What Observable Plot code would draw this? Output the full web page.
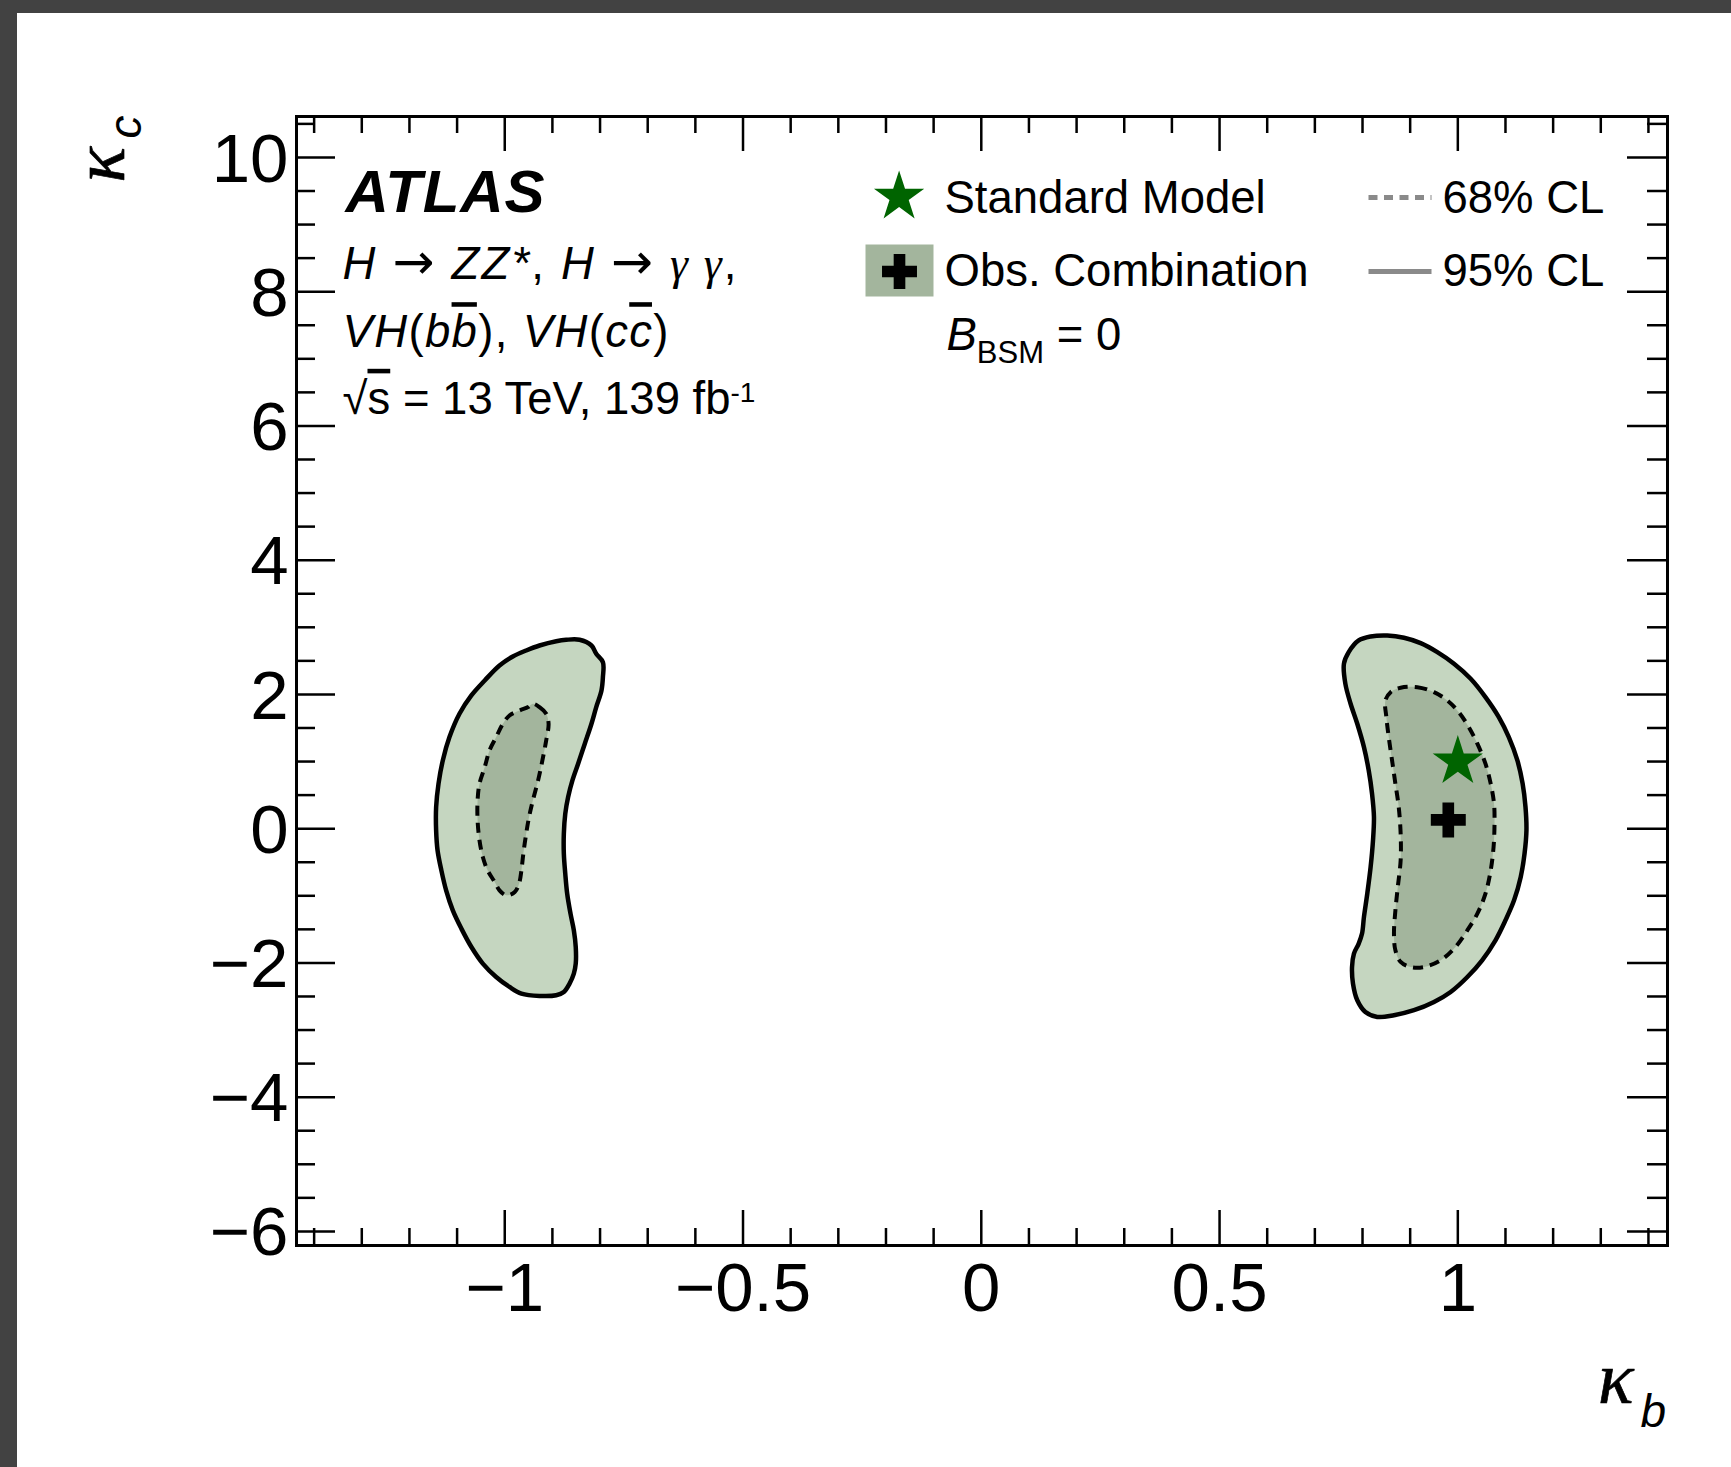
<!DOCTYPE html>
<html><head><meta charset="utf-8">
<script src="https://cdn.jsdelivr.net/npm/d3@7"></script>
<script src="https://cdn.jsdelivr.net/npm/@observablehq/plot@0.6"></script>
<style>
html,body{margin:0;padding:0;background:#424242;width:1731px;height:1467px;overflow:hidden;}
#page{position:absolute;left:17px;top:13px;width:1714px;height:1454px;background:#fff;}
#page svg{display:block;}
</style></head><body><div id="page"></div>
<script>
// ---------------- data ----------------
const xMajorTicks = [-1, -0.5, 0, 0.5, 1];
const xMinorTicks = [-1.4,-1.3,-1.2,-1.1,-0.9,-0.8,-0.7,-0.6,-0.4,-0.3,-0.2,-0.1,0.1,0.2,0.3,0.4,0.6,0.7,0.8,0.9,1.1,1.2,1.3,1.4];
const yMajorTicks = [-6, -4, -2, 0, 2, 4, 6, 8, 10];
const yMinorTicks = [-5.5,-5,-4.5,-3.5,-3,-2.5,-1.5,-1,-0.5,0.5,1,1.5,2.5,3,3.5,4.5,5,5.5,6.5,7,7.5,8.5,9,9.5,10.5];

const standardModel = [{kb: 1.0, kc: 1.0}];
const bestFit = [{kb: 0.98, kc: 0.13}];

// 95% CL contour, island at kappa_b < 0  [kb, kc]
const cl95Left = [[-0.843,2.814],[-0.818,2.729],[-0.808,2.606],[-0.794,2.481],[-0.794,2.257],[-0.797,2.059],[-0.808,1.811],[-0.818,1.563],[-0.832,1.266],[-0.846,0.968],[-0.858,0.719],[-0.867,0.471],[-0.873,0.223],[-0.876,-0.074],[-0.876,-0.372],[-0.873,-0.670],[-0.869,-0.968],[-0.862,-1.266],[-0.855,-1.514],[-0.851,-1.763],[-0.851,-2.010],[-0.855,-2.159],[-0.864,-2.308],[-0.876,-2.433],[-0.892,-2.482],[-0.927,-2.492],[-0.965,-2.457],[-0.990,-2.358],[-1.018,-2.210],[-1.046,-2.010],[-1.070,-1.763],[-1.091,-1.489],[-1.109,-1.217],[-1.123,-0.919],[-1.133,-0.621],[-1.141,-0.323],[-1.144,-0.025],[-1.144,0.322],[-1.139,0.670],[-1.130,1.017],[-1.116,1.364],[-1.095,1.712],[-1.070,1.985],[-1.042,2.208],[-1.011,2.431],[-0.983,2.566],[-0.955,2.655],[-0.927,2.729],[-0.892,2.793],[-0.871,2.814]];
// 68% CL contour, island at kappa_b < 0
const cl68Left = [[-0.941,1.861],[-0.927,1.811],[-0.913,1.712],[-0.908,1.563],[-0.913,1.315],[-0.921,1.017],[-0.930,0.719],[-0.941,0.421],[-0.949,0.173],[-0.955,-0.074],[-0.961,-0.372],[-0.965,-0.621],[-0.970,-0.819],[-0.979,-0.944],[-0.997,-0.993],[-1.011,-0.919],[-1.021,-0.795],[-1.036,-0.621],[-1.046,-0.423],[-1.053,-0.174],[-1.057,0.124],[-1.057,0.421],[-1.053,0.670],[-1.042,0.917],[-1.032,1.166],[-1.018,1.364],[-1.004,1.563],[-0.990,1.687],[-0.969,1.761],[-0.951,1.811]];
// 95% CL contour, island at kappa_b > 0
const cl95Right = [[0.792,2.804],[0.817,2.863],[0.852,2.878],[0.887,2.844],[0.922,2.764],[0.957,2.630],[0.992,2.457],[1.027,2.233],[1.058,1.960],[1.086,1.662],[1.107,1.364],[1.125,1.017],[1.136,0.670],[1.142,0.322],[1.144,-0.025],[1.140,-0.372],[1.132,-0.720],[1.118,-1.068],[1.100,-1.365],[1.079,-1.663],[1.051,-1.961],[1.020,-2.210],[0.985,-2.433],[0.950,-2.582],[0.908,-2.705],[0.866,-2.780],[0.831,-2.805],[0.806,-2.731],[0.789,-2.557],[0.780,-2.308],[0.778,-2.061],[0.782,-1.861],[0.792,-1.712],[0.799,-1.563],[0.803,-1.316],[0.810,-0.968],[0.817,-0.572],[0.822,-0.174],[0.824,0.173],[0.820,0.521],[0.813,0.868],[0.803,1.215],[0.789,1.563],[0.775,1.861],[0.764,2.159],[0.761,2.457],[0.771,2.630]];
// 68% CL contour, island at kappa_b > 0
const cl68Right = [[0.880,2.099],[0.915,2.108],[0.950,2.034],[0.978,1.910],[1.002,1.736],[1.023,1.513],[1.041,1.266],[1.058,0.968],[1.069,0.670],[1.076,0.372],[1.077,0.074],[1.075,-0.274],[1.069,-0.621],[1.058,-0.968],[1.041,-1.266],[1.020,-1.514],[0.995,-1.763],[0.964,-1.961],[0.929,-2.061],[0.901,-2.061],[0.880,-1.986],[0.869,-1.812],[0.866,-1.563],[0.869,-1.217],[0.874,-0.870],[0.880,-0.472],[0.880,-0.074],[0.876,0.322],[0.869,0.670],[0.862,1.017],[0.855,1.364],[0.850,1.662],[0.848,1.910],[0.859,2.034]];

const infoLines = ["H → ZZ*, H → γγ,", "VH(bb), VH(cc)", "√s = 13 TeV, 139 fb-1"];
const legendLabels = ["Standard Model", "Obs. Combination", "BBSM = 0", "68% CL", "95% CL"];
const axisLabels = {x: ["κ", "b"], y: ["κ", "c"]};

// ---------------- styling ----------------
const SANS = "'Liberation Sans', Arial, Helvetica, sans-serif";
const SERIF = "'Liberation Serif', 'Times New Roman', serif";
const C95 = "#c5d6c0", C68 = "#a3b59d", SMGREEN = "#006400", LEGGRAY = "#8a8a8a";
const W = 1714, H = 1454, ML = 279, MR = 64, MT = 103, MB = 222;
const IW = W - ML - MR, IH = H - MT - MB;

const toPts = a => a.map(([kb, kc]) => ({kb, kc}));

function label(str, dx, dy, opts = {}) {
  return Plot.text([str], {text: d => d, frameAnchor: "top-left", dx, dy,
    textAnchor: "start", lineAnchor: "bottom", fill: "black", fontFamily: SANS, fontSize: 45.5, ...opts});
}
const rectSymbol = {draw(ctx) { ctx.rect(-34, -26, 68, 52); }};
const lineSymbol = {draw(ctx) { ctx.moveTo(-31.5, 0); ctx.lineTo(31.5, 0); }};

const contour = (pts, fill, dash) => Plot.line(toPts(pts), {
  x: "kb", y: "kc", curve: "catmull-rom-closed", fill, stroke: "black",
  strokeWidth: dash ? 4 : 4.5, strokeDasharray: dash ? "10,7" : null,
  strokeLinecap: "butt", strokeLinejoin: "round"});

const kappaStyle = {fontFamily: SERIF, fontStyle: "italic", fontSize: 74, fill: "black",
  stroke: "black", strokeWidth: 0.7, lineAnchor: "bottom"};

const svg = Plot.plot({
  width: W, height: H,
  marginLeft: ML, marginRight: MR, marginTop: MT, marginBottom: MB,
  x: {domain: [-1.437, 1.44]},
  y: {domain: [-6.21, 10.61]},
  style: {fontFamily: SANS, background: "white", color: "black"},
  marks: [
    contour(cl95Left, C95, false),
    contour(cl95Right, C95, false),
    contour(cl68Left, C68, true),
    contour(cl68Right, C68, true),
    Plot.dot(standardModel, {x: "kb", y: "kc", symbol: "star", r: 15.8, fill: SMGREEN, stroke: "none"}),
    Plot.dot(bestFit, {x: "kb", y: "kc", symbol: "cross", r: 14.7, fill: "black", stroke: "none"}),

    // ticks on all four sides, pointing inwards
    Plot.ruleX(xMinorTicks, {x: d => d, insetTop: IH - 17, stroke: "black", strokeWidth: 2.5}),
    Plot.ruleX(xMajorTicks, {x: d => d, insetTop: IH - 35, stroke: "black", strokeWidth: 2.5}),
    Plot.ruleX(xMinorTicks, {x: d => d, insetBottom: IH - 17, stroke: "black", strokeWidth: 2.5}),
    Plot.ruleX(xMajorTicks, {x: d => d, insetBottom: IH - 35, stroke: "black", strokeWidth: 2.5}),
    Plot.ruleY(yMinorTicks, {y: d => d, insetRight: IW - 19, stroke: "black", strokeWidth: 2.5}),
    Plot.ruleY(yMajorTicks, {y: d => d, insetRight: IW - 39, stroke: "black", strokeWidth: 2.5}),
    Plot.ruleY(yMinorTicks, {y: d => d, insetLeft: IW - 20, stroke: "black", strokeWidth: 2.5}),
    Plot.ruleY(yMajorTicks, {y: d => d, insetLeft: IW - 40, stroke: "black", strokeWidth: 2.5}),
    Plot.frame({stroke: "black", strokeWidth: 3}),

    Plot.axisX(xMajorTicks, {anchor: "bottom", tickSize: 0, tickPadding: 16, fontSize: 69,
      fontFamily: SANS, tickFormat: d3.format("~g"), label: null}),
    Plot.axisY(yMajorTicks, {anchor: "left", tickSize: 0, tickPadding: 8, fontSize: 69,
      fontFamily: SANS, tickFormat: d3.format("~g"), label: null, dy: 2}),

    // axis titles
    Plot.text([axisLabels.x[0]], {text: d => d, frameAnchor: "bottom-right", dx: -34, dy: 157, textAnchor: "end", ...kappaStyle}),
    Plot.text([axisLabels.x[1]], {text: d => d, frameAnchor: "bottom-right", dx: -27, dy: 181, textAnchor: "start",
      lineAnchor: "bottom", fontFamily: SANS, fontStyle: "italic", fontSize: 46, fill: "black"}),
    Plot.text([axisLabels.y[0]], {text: d => d, frameAnchor: "top-left", dx: -173, dy: 66, rotate: -90, textAnchor: "start", ...kappaStyle}),
    Plot.text([axisLabels.y[1]], {text: d => d, frameAnchor: "top-left", dx: -156, dy: 22, rotate: -90, textAnchor: "start",
      lineAnchor: "bottom", fontFamily: SANS, fontStyle: "italic", fontSize: 46, fill: "black"}),

    // ATLAS block
    label("ATLAS", 49, 95.7, {fontWeight: "bold", fontStyle: "italic", fontSize: 60}),
    label(infoLines[0], 46, 162.3),
    label(infoLines[1], 46, 230.7),
    label(infoLines[2], 46, 297.3),

    // legend
    Plot.dot([0], {x: null, y: null, frameAnchor: "top-left", dx: 602.6, dy: 80.5, symbol: "star", r: 15.8, fill: SMGREEN, stroke: "none"}),
    Plot.dot([0], {x: null, y: null, frameAnchor: "top-left", dx: 603, dy: 154, symbol: rectSymbol, r: 10, fill: C68, stroke: "none"}),
    Plot.dot([0], {x: null, y: null, frameAnchor: "top-left", dx: 603, dy: 155, symbol: "cross", r: 14.7, fill: "black", stroke: "none"}),
    Plot.dot([0], {x: null, y: null, frameAnchor: "top-left", dx: 1103.5, dy: 81, symbol: lineSymbol, r: 10, fill: "none",
      stroke: LEGGRAY, strokeWidth: 5, strokeDasharray: "9,6.5", strokeLinecap: "butt"}),
    Plot.dot([0], {x: null, y: null, frameAnchor: "top-left", dx: 1103.5, dy: 155, symbol: lineSymbol, r: 10, fill: "none",
      stroke: LEGGRAY, strokeWidth: 5, strokeLinecap: "butt"}),
    label(legendLabels[0], 648, 96.7),
    label(legendLabels[1], 648, 169),
    label(legendLabels[2], 650, 233.3),
    label(legendLabels[3], 1146, 96.7),
    label(legendLabels[4], 1146, 169)
  ]
});
document.getElementById("page").appendChild(svg);

// rich-text formatting (italics, overlines, sub/superscripts)
const I = s => `<tspan font-style="italic">${s}</tspan>`;
const ARROW = `<tspan font-family="DejaVu Sans" font-size="50">→</tspan>`;
const richText = {
  [infoLines[0]]: `${I("H")} ${ARROW} ${I("ZZ*")}, ${I("H")} ${ARROW} <tspan font-family="Liberation Serif" font-style="italic">γ γ</tspan>,`,
  [infoLines[1]]: `${I("VH")}(${I("b")}<tspan font-style="italic" text-decoration="overline">b</tspan>), ${I("VH")}(${I("c")}<tspan font-style="italic" text-decoration="overline">c</tspan>)`,
  [infoLines[2]]: `√<tspan text-decoration="overline">s</tspan> = 13 TeV, 139 fb<tspan font-size="28" dy="-12">-1</tspan>`,
  [legendLabels[2]]: `${I("B")}<tspan font-size="31" dy="13">BSM</tspan><tspan dy="-13"> = 0</tspan>`
};
const textLengths = {"ATLAS": 199, [infoLines[0]]: 394, [infoLines[1]]: 326};
svg.querySelectorAll("text").forEach(t => {
  const key = t.textContent;
  const html = richText[key];
  if (html) t.innerHTML = html;
  if (textLengths[key]) {
    t.setAttribute("textLength", textLengths[key]);
    t.setAttribute("lengthAdjust", "spacing");
  }
});
</script>
</body></html>
